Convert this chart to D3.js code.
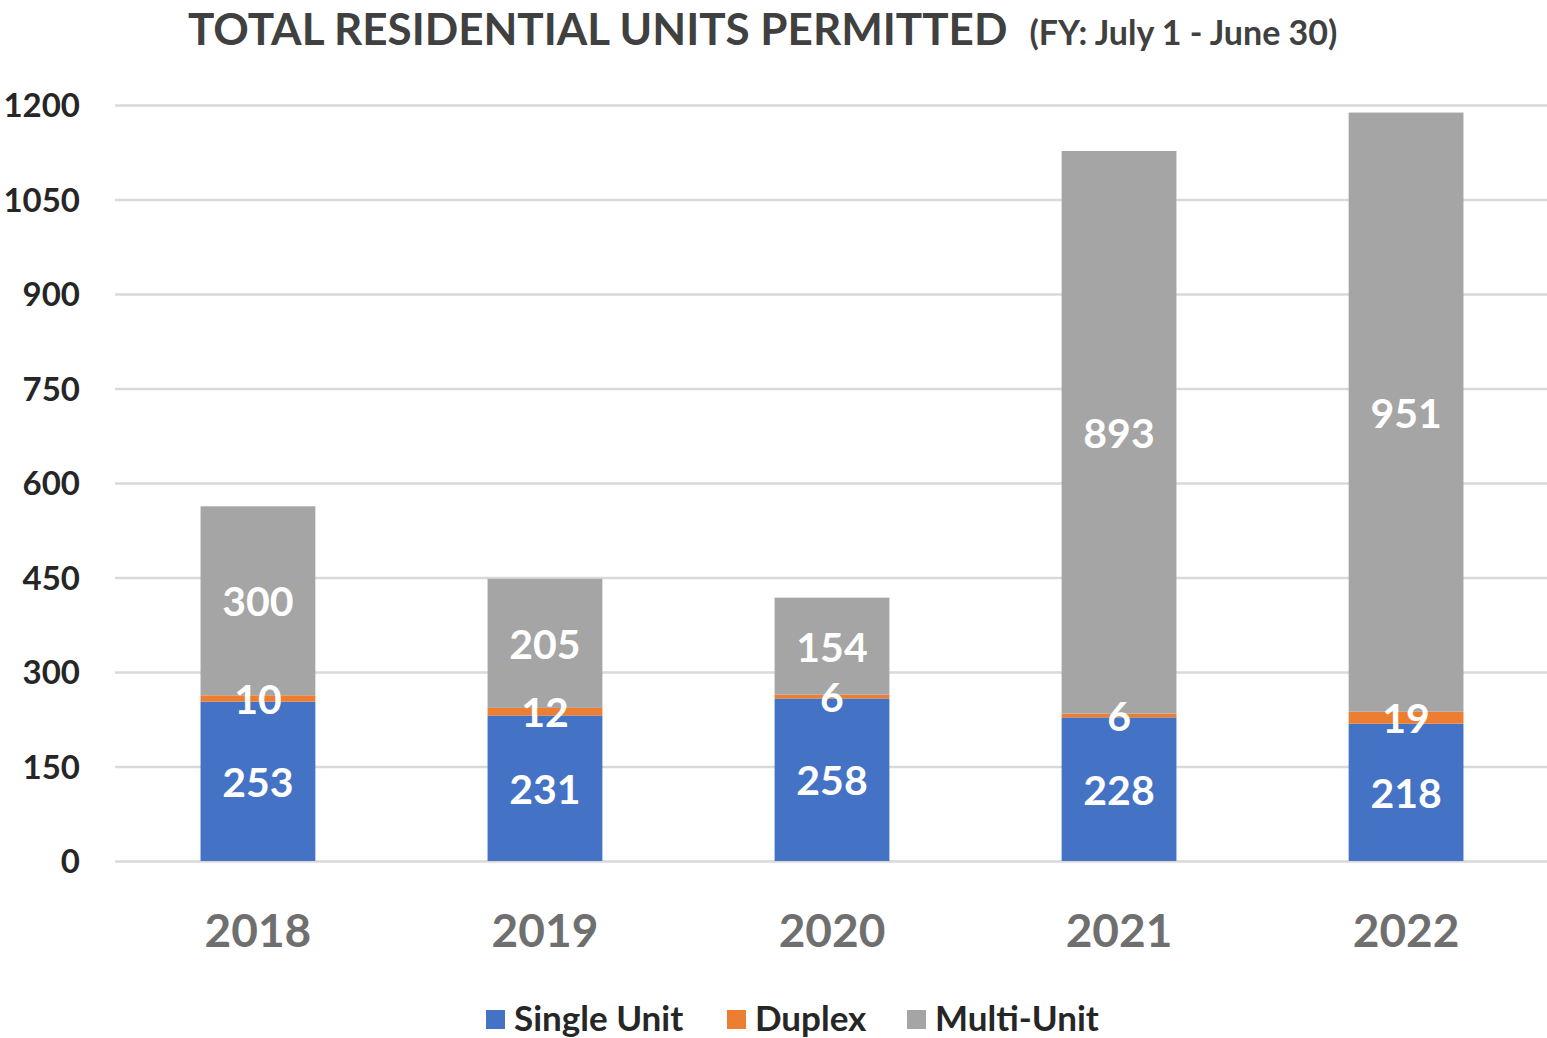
<!DOCTYPE html>
<html>
<head>
<meta charset="utf-8">
<script src="https://cdn.jsdelivr.net/npm/d3@7"></script>
<style>
  body { margin: 0; background: #fff; }
  svg { display: block; font-family: Lato, "Open Sans", sans-serif; font-weight: 700; }
</style>
</head>
<body>
<svg id="chart" width="1547" height="1038"></svg>
<script>
// data
const years = ["2018", "2019", "2020", "2021", "2022"];
const singleUnit = [253, 231, 258, 228, 218];
const duplex = [10, 12, 6, 6, 19];
const multiUnit = [300, 205, 154, 893, 951];
const yTicks = [0, 150, 300, 450, 600, 750, 900, 1050, 1200];

const seriesNames = ["Single Unit", "Duplex", "Multi-Unit"];
const colors = ["#4472c4", "#ed7d31", "#a5a5a5"];

const table = years.map((y, i) => ({
  year: y,
  "Single Unit": singleUnit[i],
  Duplex: duplex[i],
  "Multi-Unit": multiUnit[i],
}));

const svg = d3.select("#chart");
const margin = { top: 105, right: 0, bottom: 177, left: 115 },
  width = +svg.attr("width") - margin.left - margin.right,
  height = +svg.attr("height") - margin.top - margin.bottom;

const g = svg
  .append("g")
  .attr("transform", "translate(" + margin.left + "," + margin.top + ")");

const xScale = d3.scaleBand().domain(years).range([0, width + 2]).paddingInner(0.6).paddingOuter(0.298);
const yScale = d3.scaleLinear().domain([0, 1200]).range([height, 0]);

//===== gridlines + y labels =====
const yAxis = d3.axisLeft(yScale).tickValues(yTicks).tickSize(-width).tickFormat(d3.format("d"));
const yAxisG = g.append("g").call(yAxis);
yAxisG.select(".domain").remove();
yAxisG.selectAll("line").attr("stroke", "#d9d9d9").attr("stroke-width", 2.5);
yAxisG
  .selectAll("text")
  .attr("x", -35)
  .attr("dy", "0.36em")
  .style("font-size", "33px")
  .style("font-family", "Lato, sans-serif")
  .style("font-weight", 700)
  .attr("fill", "#262626");

//===== stacked bars =====
const stack = d3.stack().keys(seriesNames)(table);

const layers = g
  .selectAll("g.layer")
  .data(stack)
  .enter()
  .append("g")
  .attr("class", "layer")
  .attr("fill", (d, i) => colors[i]);

layers
  .selectAll("rect")
  .data((d) => d)
  .enter()
  .append("rect")
  .attr("x", (d) => xScale(d.data.year))
  .attr("width", xScale.bandwidth())
  .attr("y", (d) => yScale(d[1]))
  .attr("height", (d) => yScale(d[0]) - yScale(d[1]));

// labels drawn after all bars so thin segments stay readable
const labelG = g.append("g");
stack.forEach((layer) => {
  labelG
    .selectAll(null)
    .data(layer)
    .enter()
    .append("text")
    .attr("x", (d) => xScale(d.data.year) + xScale.bandwidth() / 2)
    .attr("y", (d) => yScale((d[0] + d[1]) / 2))
    .attr("dy", "0.38em")
    .attr("text-anchor", "middle")
    .attr("fill", "#fff")
    .style("font-size", "41px")
    .text((d) => d.data[layer.key]);
});

//===== x labels =====
const xAxis = d3.axisBottom(xScale).tickSize(0);
const xAxisG = g.append("g").attr("transform", `translate(0,${height})`).call(xAxis);
xAxisG.select(".domain").remove();
xAxisG
  .selectAll("text")
  .attr("y", 86)
  .attr("dy", "0")
  .style("font-size", "46px")
  .style("font-family", "Lato, sans-serif")
  .style("font-weight", 700)
  .attr("fill", "#6f6f6f");

//===== title =====
const title = svg
  .append("text")
  .attr("x", 188)
  .attr("y", 45)
  .attr("fill", "#404040");
title.append("tspan").style("font-size", "44px").text("TOTAL RESIDENTIAL UNITS PERMITTED");
title
  .append("tspan")
  .attr("dx", 22)
  .style("font-size", "34px")
  .text("(FY: July 1 - June 30)");

//===== legend =====
const legendPos = [486, 727, 907];
const legend = svg
  .selectAll("g.legend")
  .data(seriesNames)
  .enter()
  .append("g")
  .attr("class", "legend")
  .attr("transform", (d, i) => `translate(${legendPos[i]},1010)`);
legend
  .append("rect")
  .attr("width", 19)
  .attr("height", 19)
  .attr("fill", (d, i) => colors[i]);
legend
  .append("text")
  .attr("x", 28)
  .attr("y", 21)
  .attr("fill", "#262626")
  .style("font-size", "35px")
  .text((d) => d);
</script>
</body>
</html>
